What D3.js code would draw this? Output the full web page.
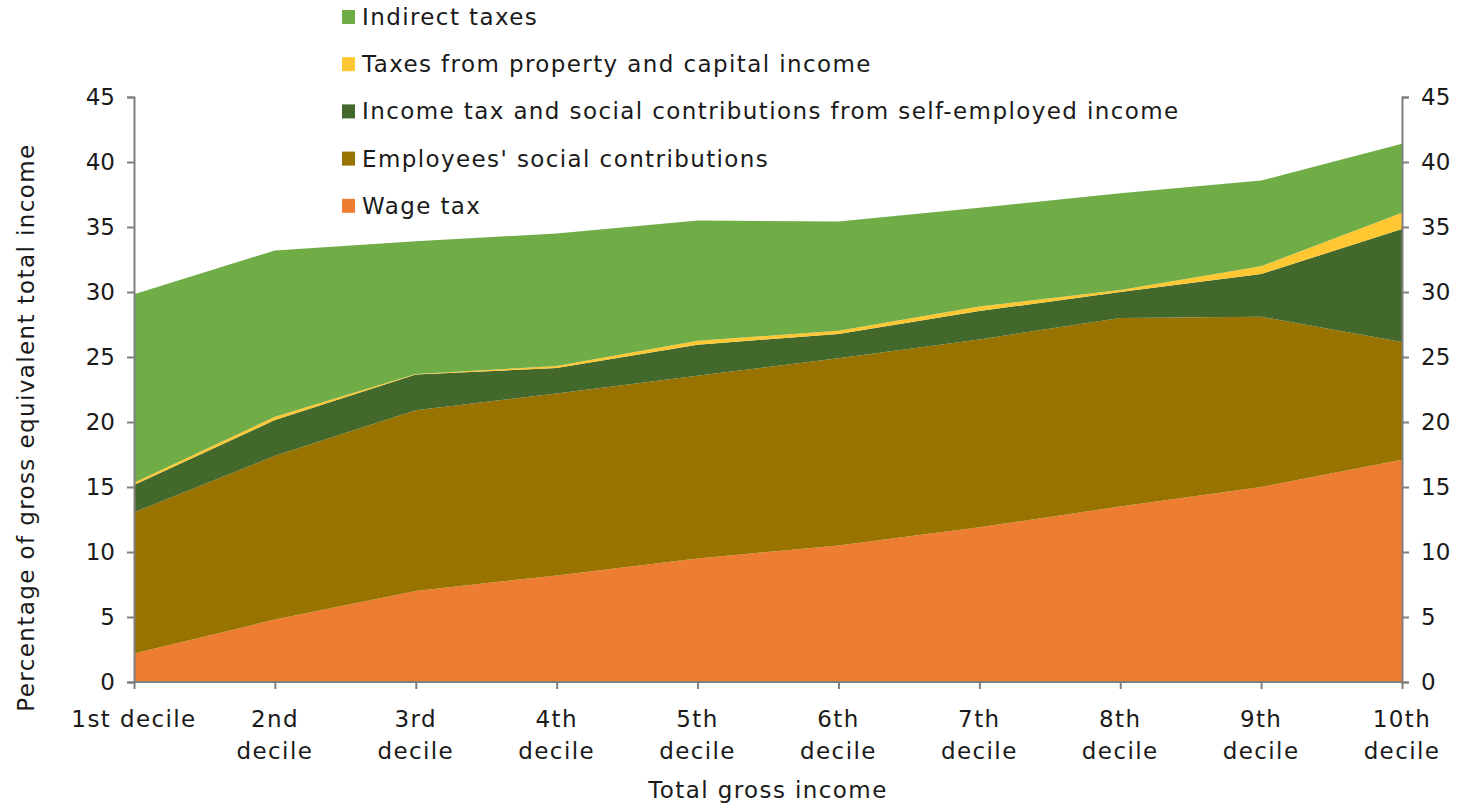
<!DOCTYPE html>
<html>
<head>
<meta charset="utf-8">
<script src="https://cdn.jsdelivr.net/npm/d3@7"></script>
<style>
  html, body { margin: 0; padding: 0; background: #ffffff; }
  svg { display: block; }
  text { font-family: "DejaVu Sans", sans-serif; fill: #1a1a1a; }
  .wide { letter-spacing: 1.4px; }
</style>
</head>
<body>
<svg id="chart" width="1462" height="805"></svg>
<script>
// Deciles of total gross income
const deciles = [
  ["1st decile"], ["2nd", "decile"], ["3rd", "decile"], ["4th", "decile"], ["5th", "decile"],
  ["6th", "decile"], ["7th", "decile"], ["8th", "decile"], ["9th", "decile"], ["10th", "decile"]
];

// Tax components, % of gross equivalent total income
const wageTax        = [2.2, 4.8, 7.0, 8.2, 9.5, 10.5, 11.9, 13.5, 15.0, 17.1];
const employeesSC    = [10.85, 12.6, 13.9, 14.0, 14.05, 14.4, 14.45, 14.5, 13.1, 9.05];
const selfEmployedTx = [2.1, 2.75, 2.75, 1.95, 2.4, 1.87, 2.18, 2.0, 3.28, 8.7];
const propertyTx     = [0.18, 0.25, 0.05, 0.15, 0.3, 0.25, 0.35, 0.15, 0.6, 1.25];
const indirectTx     = [14.5, 12.8, 10.2, 10.2, 9.25, 8.4, 7.6, 7.45, 6.6, 5.3];

const yTicks = [0, 5, 10, 15, 20, 25, 30, 35, 40, 45];

const seriesDefs = [
  { key: "wage",     name: "Wage tax",                                                      values: wageTax,        color: "#ED7D31" },
  { key: "empl",     name: "Employees' social contributions",                               values: employeesSC,    color: "#997300" },
  { key: "self",     name: "Income tax and social contributions from self-employed income", values: selfEmployedTx, color: "#43682B" },
  { key: "property", name: "Taxes from property and capital income",                        values: propertyTx,     color: "#FFC832" },
  { key: "indirect", name: "Indirect taxes",                                                values: indirectTx,     color: "#70AD47" }
];

const rows = deciles.map((d, i) => {
  const r = { i };
  seriesDefs.forEach(s => r[s.key] = s.values[i]);
  return r;
});

const svg = d3.select("#chart");
const plotLeft = 134, plotRight = 1402, plotTop = 97, plotBottom = 682;

const x = d3.scalePoint().domain(d3.range(deciles.length)).range([plotLeft, plotRight]);
const y = d3.scaleLinear().domain([0, 45]).range([plotBottom, plotTop]);

const stack = d3.stack().keys(seriesDefs.map(s => s.key));
const layers = stack(rows);

const area = d3.area()
  .x(d => x(d.data.i))
  .y0(d => y(d[0]))
  .y1(d => y(d[1]));

svg.append("g").selectAll("path")
  .data(layers)
  .join("path")
  .attr("d", area)
  .attr("fill", (d, i) => seriesDefs[i].color);

const axisColor = "#7f7f7f";
const fontSize = 23;

// Left and right value axes, bottom category axis
const yLeft = svg.append("g").attr("transform", `translate(${plotLeft},0)`)
  .call(d3.axisLeft(y).tickValues(yTicks).tickSize(7).tickPadding(12));
const yRight = svg.append("g").attr("transform", `translate(${plotRight},0)`)
  .call(d3.axisRight(y).tickValues(yTicks).tickSize(7).tickPadding(12));
const xAxis = svg.append("g").attr("transform", `translate(0,${plotBottom})`)
  .call(d3.axisBottom(x).tickSize(7).tickFormat(""));

[yLeft, yRight, xAxis].forEach(g => {
  g.select(".domain").attr("stroke", axisColor).attr("stroke-width", 2);
  g.selectAll(".tick line").attr("stroke", axisColor).attr("stroke-width", 2);
  g.selectAll(".tick text").attr("font-size", fontSize).attr("fill", "#1a1a1a")
    .attr("font-family", "DejaVu Sans, sans-serif");
});
xAxis.select(".domain").attr("d", `M${plotLeft},0H${plotRight}`);

// Category labels (one or two lines)
const catG = svg.append("g");
deciles.forEach((lines, i) => {
  const t = catG.append("text")
    .attr("class", "wide")
    .attr("x", x(i))
    .attr("y", 727)
    .attr("text-anchor", "middle")
    .attr("font-size", fontSize);
  lines.forEach((ln, j) => {
    t.append("tspan").attr("x", x(i)).attr("dy", j === 0 ? 0 : 32).text(ln);
  });
});

// Axis titles
svg.append("text")
  .attr("class", "wide")
  .attr("x", 768).attr("y", 798)
  .attr("text-anchor", "middle")
  .attr("font-size", fontSize)
  .text("Total gross income");

svg.append("text")
  .attr("class", "wide")
  .attr("transform", `translate(34,${(140 + 715) / 2}) rotate(-90)`)
  .attr("text-anchor", "middle")
  .attr("font-size", fontSize)
  .text("Percentage of gross equivalent total income");

// Legend, top series first
const legendOrder = seriesDefs.slice().reverse();
const legend = svg.append("g");
legendOrder.forEach((s, i) => {
  const cy = 17 + i * 47.2;
  legend.append("rect")
    .attr("x", 342).attr("y", cy - 7)
    .attr("width", 13).attr("height", 14)
    .attr("fill", s.color);
  legend.append("text")
    .attr("class", "wide")
    .attr("x", 362).attr("y", cy + 8)
    .attr("font-size", fontSize)
    .text(s.name);
});
</script>
</body>
</html>
